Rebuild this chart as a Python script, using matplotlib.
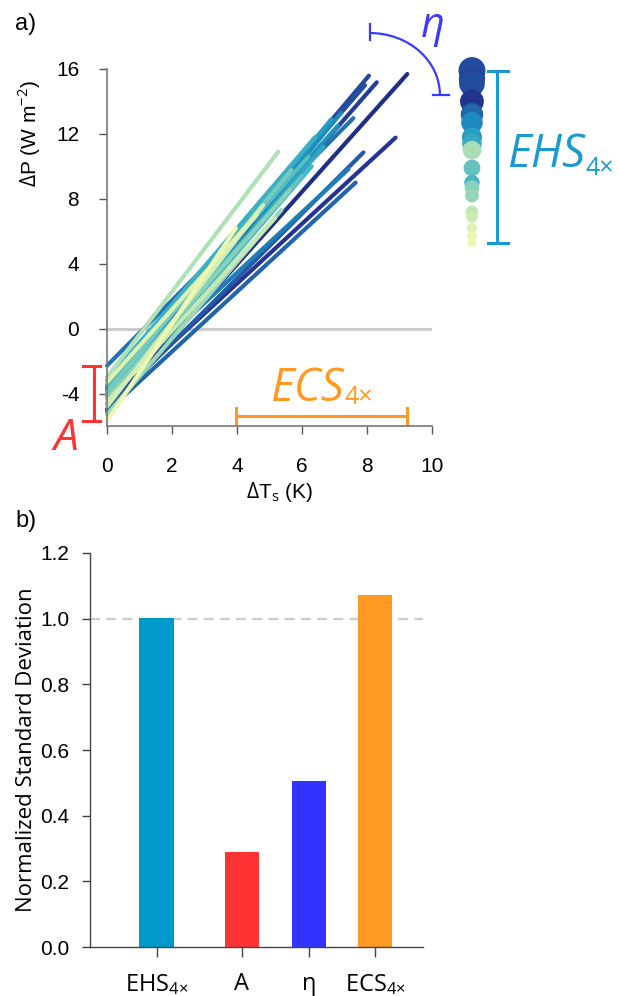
import numpy as np
import matplotlib.pyplot as plt
from matplotlib.patches import Arc

plt.rcParams['font.family'] = ['Liberation Sans', 'DejaVu Sans']
plt.rcParams['mathtext.fontset'] = 'custom'
plt.rcParams['mathtext.rm'] = 'Open Sans'
plt.rcParams['mathtext.it'] = 'Open Sans:italic'
plt.rcParams['axes.unicode_minus'] = False

# panel a: one line per model, from (0, A) to (ECS, EHS)
adj = [-5.0, -4.6, -3.6, -3.8, -3.3, -2.28, -4.9, -5.1, -4.0, -3.5, -4.2,
       -3.0, -3.9, -4.3, -5.3, -5.7, -4.5, -3.5, -4.1, -3.3, -4.8, -3.2,
       -4.3, -3.9, -4.6]
ecs = [9.24, 8.88, 8.06, 8.30, 7.94, 7.58, 7.89, 7.65, 7.43, 7.10, 6.66,
       5.27, 5.68, 5.63, 5.37, 3.97, 5.17, 6.20, 6.00, 4.60, 4.80, 6.40,
       7.20, 6.90, 6.30]
ehs_end = [15.69, 11.77, 15.59, 15.18, 15.00, 12.97, 10.86, 9.00, 9.83, 12.50, 11.20,
           10.91, 9.78, 8.55, 7.32, 6.20, 6.81, 10.60, 9.40, 7.00, 7.60, 11.80,
           13.30, 12.90, 10.00]

# dots on the right of panel a
dot_ehs = [15.9, 15.4, 15.1, 14.0, 13.2, 12.7, 11.8, 11.4, 11.0, 9.9, 9.0,
           8.7, 8.2, 7.2, 6.9, 6.2, 5.7, 5.3]
dot_ecs = [8.0, 8.1, 8.0, 9.0, 7.66, 7.2, 6.9, 6.55, 5.3, 6.0, 6.3,
           5.6, 5.45, 5.2, 5.0, 4.5, 4.2, 3.97]

# panel b
bar_names = ['EHS$_{4\u00d7}$', 'A', '\u03b7', 'ECS$_{4\u00d7}$']
bar_vals = [1.003, 0.29, 0.506, 1.073]
bar_cols = ['#0099cc', '#ff3333', '#3333ff', '#ff9922']

cmap = plt.get_cmap('YlGnBu')
ecs_sorted = np.sort(ecs)


def ecs_colour(v):
    # colour by rank of ECS among the models
    r = np.interp(v, ecs_sorted, np.linspace(0, 1, len(ecs_sorted)))
    return cmap(0.12 + 0.78 * r**0.85)


ann_font = 'Open Sans'

fig = plt.figure(figsize=(6.19, 9.96), dpi=100)

# ---------------- panel a ----------------
ax = fig.add_axes([107/619, 1-426/996, 325/619, 357/996])
ax.plot([0, 10], [0, 0], color='#cccccc', lw=2.2, zorder=1)
order = np.argsort(ecs)[::-1]
for i in order:
    ax.plot([0, ecs[i]], [adj[i], ehs_end[i]], color=ecs_colour(ecs[i]),
            lw=3.0, solid_capstyle='round', zorder=2, clip_on=False)

dot_order = np.argsort(dot_ehs)[::-1]
d_ehs = np.array(dot_ehs)[dot_order]
d_ecs = np.array(dot_ecs)[dot_order]
ax.scatter(np.full(len(d_ehs), 11.23), d_ehs, s=1.5*d_ehs**2,
           c=[ecs_colour(v) for v in d_ecs], linewidths=0, clip_on=False, zorder=3)

ax.set_xlim(0, 10)
ax.set_ylim(-6, 16)
ax.set_xticks([0, 2, 4, 6, 8, 10])
ax.set_yticks([-4, 0, 4, 8, 12, 16])
for s in ['top', 'right']:
    ax.spines[s].set_visible(False)
for s in ['left', 'bottom']:
    ax.spines[s].set_color('#777777')
    ax.spines[s].set_linewidth(1.2)
ax.tick_params(length=6, width=1, color='#555555', labelsize=15)
ax.tick_params(axis='x', pad=16)
ax.tick_params(axis='y', pad=14)


def label_with_sub(x, y, main, sub, col, y_sub):
    t = ax.text(x, y, main, color=col, fontsize=33, family=ann_font, style='italic',
                ha='left', va='baseline', clip_on=False)
    ax.annotate(sub, xy=(1.0, y_sub), xycoords=(t, 'data'), xytext=(0.5, 0),
                textcoords='offset points', color=col, fontsize=18, family=ann_font,
                ha='left', va='baseline', annotation_clip=False)


# EHS bracket
ehs_col = '#1a9ad0'
ax.plot([12.01, 12.01], [min(dot_ehs), max(dot_ehs)], color=ehs_col, lw=2.2, clip_on=False)
for y in [min(dot_ehs), max(dot_ehs)]:
    ax.plot([11.71, 12.33], [y, y], color=ehs_col, lw=2.2, clip_on=False)
label_with_sub(12.31, 9.97, 'EHS', '4\u00d7', ehs_col, 9.48)

# A bracket
a_col = '#ff3333'
ax.plot([-0.40, -0.40], [max(adj), min(adj)], color=a_col, lw=2.2, clip_on=False)
for y in [max(adj), min(adj)]:
    ax.plot([-0.74, -0.22], [y, y], color=a_col, lw=2.2, clip_on=False)
ax.text(-1.66, -7.45, 'A', color=a_col, fontsize=32, family=ann_font, style='italic',
        ha='left', va='baseline', clip_on=False)

# ECS bracket
e_col = '#ff9922'
ax.plot([min(ecs), max(ecs)], [-5.4, -5.4], color=e_col, lw=2.2, clip_on=False)
for x in [min(ecs), max(ecs)]:
    ax.plot([x, x], [-4.92, -5.85], color=e_col, lw=2.2, clip_on=False)
label_with_sub(5.02, -4.49, 'ECS', '4\u00d7', e_col, -4.62)

# eta arc
eta_col = '#3a3aff'
ax.add_patch(Arc((8.09, 14.4), 2*2.154, 2*3.815, theta1=0, theta2=90,
                 color=eta_col, lw=1.6, clip_on=False))
ax.plot([8.09, 8.09], [17.78, 18.77], color=eta_col, lw=1.6, clip_on=False)
ax.plot([10.03, 10.52], [14.4, 14.4], color=eta_col, lw=1.6, clip_on=False)
ax.text(10.03, 18.0, '\u03b7', color=eta_col, fontsize=30, family=ann_font, style='italic',
        ha='center', va='baseline', clip_on=False)

fig.text(15/619, 1-24/996, 'a)', fontsize=17, va='center', ha='left')
fig.text(29/619, 1-134/996, r'$\Delta$P (W m$^{\mathrm{-2}}$)', fontsize=15, rotation=90,
         va='center', ha='center')
fig.text(279/619, 1-492/996, r'$\Delta$T$_\mathrm{s}$ (K)', fontsize=15,
         va='center', ha='center')

# ---------------- panel b ----------------
bx = fig.add_axes([90/619, 1-947/996, 333/619, 394/996])
pos = [1.0, 2.28, 3.29, 4.28]
bx.bar(pos, bar_vals, width=0.52, color=bar_cols, zorder=2)
bx.axhline(1.0, color='#cccccc', lw=1.6, ls=(0, (4.5, 2.8)), zorder=1)
bx.set_xlim(0, 5)
bx.set_ylim(0, 1.2)
bx.set_yticks(np.arange(0, 1.21, 0.2))
bx.set_yticklabels(['%.1f' % v for v in np.arange(0, 1.21, 0.2)])
bx.set_xticks(pos)
bx.set_xticklabels(bar_names, family=ann_font, fontsize=17)
for s in ['top', 'right']:
    bx.spines[s].set_visible(False)
for s in ['left', 'bottom']:
    bx.spines[s].set_color('#444444')
    bx.spines[s].set_linewidth(1.0)
bx.tick_params(axis='y', length=6, width=1, color='#444444', labelsize=15, pad=9)
bx.tick_params(axis='x', length=7, width=1, color='#444444', pad=11)
bx.set_ylabel('Normalized Standard Deviation', family=ann_font, fontsize=16)
bx.yaxis.set_label_coords(-0.159, 0.5)

fig.text(15/619, 1-521/996, 'b)', fontsize=17, va='center', ha='left')

fig.savefig('out.png', dpi=100)
